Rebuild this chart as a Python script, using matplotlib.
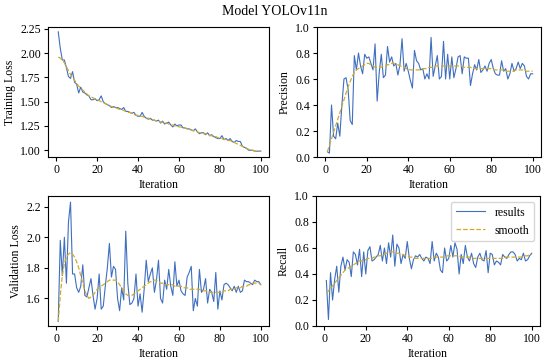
import matplotlib
matplotlib.use("Agg")
import matplotlib.pyplot as plt

plt.rcParams['font.family'] = ['Liberation Serif', 'DejaVu Serif']
plt.rcParams['font.size'] = 8

iteration = list(range(1, 101))

train_loss = [2.22, 2.05, 1.93, 1.93, 1.85, 1.76, 1.74, 1.81, 1.70, 1.68,
              1.59, 1.65, 1.60, 1.59, 1.57, 1.56, 1.52, 1.52, 1.53, 1.51,
              1.52, 1.56, 1.50, 1.48, 1.47, 1.46, 1.44, 1.45, 1.44, 1.44,
              1.43, 1.42, 1.44, 1.40, 1.40, 1.39, 1.38, 1.39, 1.36, 1.35,
              1.35, 1.39, 1.35, 1.33, 1.32, 1.33, 1.31, 1.31, 1.30, 1.31,
              1.28, 1.30, 1.27, 1.28, 1.29, 1.26, 1.24, 1.27, 1.25, 1.26,
              1.26, 1.23, 1.23, 1.22, 1.22, 1.21, 1.20, 1.22, 1.19, 1.17,
              1.18, 1.18, 1.16, 1.18, 1.15, 1.16, 1.14, 1.13, 1.12, 1.12,
              1.15, 1.11, 1.12, 1.10, 1.12, 1.09, 1.08, 1.10, 1.09, 1.09,
              1.04, 1.03, 1.02, 1.00, 1.00, 1.00, 0.99, 0.99, 0.99, 0.99]
train_smooth = [1.96, 1.95, 1.93, 1.90, 1.86, 1.82, 1.78, 1.75, 1.72, 1.69,
                1.66, 1.64, 1.62, 1.60, 1.58, 1.56, 1.55, 1.54, 1.53, 1.52,
                1.51, 1.50, 1.49, 1.48, 1.47, 1.46, 1.45, 1.44, 1.44, 1.43,
                1.42, 1.42, 1.41, 1.40, 1.39, 1.39, 1.38, 1.37, 1.36, 1.36,
                1.35, 1.35, 1.34, 1.33, 1.33, 1.32, 1.31, 1.31, 1.30, 1.30,
                1.29, 1.29, 1.28, 1.28, 1.27, 1.26, 1.26, 1.25, 1.25, 1.24,
                1.24, 1.23, 1.23, 1.22, 1.21, 1.21, 1.20, 1.20, 1.19, 1.18,
                1.18, 1.17, 1.17, 1.16, 1.15, 1.15, 1.14, 1.14, 1.13, 1.12,
                1.12, 1.11, 1.11, 1.10, 1.10, 1.09, 1.08, 1.07, 1.06, 1.05,
                1.04, 1.03, 1.02, 1.01, 1.00, 1.00, 0.99, 0.99, 0.99, 0.99]

precision = [0.04, 0.03, 0.40, 0.16, 0.14, 0.26, 0.16, 0.40, 0.60, 0.61,
             0.52, 0.28, 0.25, 0.78, 0.67, 0.80, 0.70, 0.64, 0.79, 0.76,
             0.77, 0.72, 0.67, 0.87, 0.43, 0.65, 0.79, 0.61, 0.63, 0.85,
             0.73, 0.77, 0.70, 0.72, 0.63, 0.71, 0.91, 0.66, 0.72, 0.66,
             0.59, 0.53, 0.82, 0.74, 0.72, 0.67, 0.68, 0.60, 0.64, 0.60,
             0.92, 0.62, 0.70, 0.78, 0.60, 0.62, 0.89, 0.60, 0.79, 0.60,
             0.77, 0.61, 0.68, 0.77, 0.78, 0.64, 0.77, 0.76, 0.76, 0.55,
             0.64, 0.71, 0.67, 0.75, 0.65, 0.67, 0.70, 0.66, 0.72, 0.75,
             0.68, 0.64, 0.63, 0.63, 0.74, 0.66, 0.68, 0.60, 0.64, 0.72,
             0.66, 0.68, 0.73, 0.68, 0.72, 0.70, 0.62, 0.60, 0.64, 0.64]
precision_smooth = [0.04, 0.09, 0.14, 0.19, 0.24, 0.29, 0.34, 0.39, 0.44, 0.49,
                    0.54, 0.58, 0.62, 0.65, 0.67, 0.68, 0.69, 0.70, 0.71, 0.72,
                    0.72, 0.71, 0.70, 0.69, 0.69, 0.69, 0.69, 0.70, 0.70, 0.71,
                    0.71, 0.72, 0.72, 0.71, 0.71, 0.70, 0.70, 0.69, 0.68, 0.68,
                    0.67, 0.67, 0.67, 0.67, 0.67, 0.67, 0.68, 0.68, 0.68, 0.69,
                    0.69, 0.69, 0.70, 0.70, 0.70, 0.70, 0.70, 0.70, 0.70, 0.70,
                    0.70, 0.70, 0.70, 0.70, 0.70, 0.70, 0.69, 0.69, 0.69, 0.69,
                    0.68, 0.68, 0.68, 0.68, 0.68, 0.68, 0.68, 0.68, 0.68, 0.68,
                    0.67, 0.67, 0.67, 0.67, 0.67, 0.67, 0.66, 0.66, 0.66, 0.66,
                    0.66, 0.67, 0.67, 0.67, 0.67, 0.67, 0.66, 0.66, 0.66, 0.66]

val_loss = [1.45, 1.98, 1.75, 2.00, 1.70, 2.10, 2.23, 1.76, 1.76, 1.67,
            1.64, 1.68, 1.82, 1.62, 1.61, 1.67, 1.73, 1.62, 1.53, 1.60,
            1.76, 1.53, 1.55, 1.68, 1.80, 1.96, 1.74, 1.81, 1.79, 1.60,
            1.52, 1.67, 1.59, 2.04, 1.70, 1.56, 1.57, 1.60, 1.76, 1.55,
            1.63, 1.51, 1.66, 1.85, 1.71, 1.76, 1.80, 1.64, 1.72, 1.85,
            1.60, 1.57, 1.72, 1.66, 1.79, 1.68, 1.62, 1.84, 1.68, 1.72,
            1.65, 1.63, 1.62, 1.74, 1.77, 1.81, 1.52, 1.60, 1.55, 1.79,
            1.64, 1.66, 1.73, 1.57, 1.66, 1.64, 1.58, 1.77, 1.53, 1.65,
            1.59, 1.69, 1.70, 1.69, 1.67, 1.65, 1.68, 1.64, 1.68, 1.64,
            1.65, 1.72, 1.71, 1.71, 1.70, 1.69, 1.72, 1.71, 1.71, 1.69]
val_smooth = [1.45, 1.62, 1.75, 1.83, 1.87, 1.89, 1.90, 1.89, 1.87, 1.84,
              1.80, 1.75, 1.70, 1.65, 1.62, 1.60, 1.61, 1.62, 1.64, 1.66,
              1.67, 1.68, 1.69, 1.70, 1.71, 1.72, 1.72, 1.72, 1.72, 1.71,
              1.69, 1.67, 1.65, 1.63, 1.62, 1.62, 1.62, 1.63, 1.64, 1.65,
              1.66, 1.67, 1.68, 1.69, 1.70, 1.71, 1.71, 1.72, 1.72, 1.71,
              1.70, 1.70, 1.69, 1.69, 1.69, 1.69, 1.69, 1.68, 1.68, 1.68,
              1.68, 1.67, 1.67, 1.67, 1.66, 1.66, 1.66, 1.66, 1.66, 1.66,
              1.65, 1.65, 1.65, 1.65, 1.64, 1.64, 1.64, 1.64, 1.64, 1.64,
              1.64, 1.65, 1.65, 1.65, 1.66, 1.66, 1.66, 1.67, 1.67, 1.67,
              1.68, 1.68, 1.68, 1.69, 1.69, 1.70, 1.70, 1.70, 1.70, 1.69]

recall = [0.35, 0.05, 0.41, 0.20, 0.36, 0.46, 0.26, 0.46, 0.53, 0.43,
          0.51, 0.49, 0.38, 0.57, 0.55, 0.47, 0.59, 0.38, 0.57, 0.40,
          0.58, 0.61, 0.50, 0.51, 0.53, 0.55, 0.62, 0.50, 0.60, 0.48,
          0.64, 0.53, 0.70, 0.46, 0.63, 0.60, 0.48, 0.55, 0.52, 0.65,
          0.52, 0.44, 0.51, 0.54, 0.53, 0.55, 0.52, 0.50, 0.53, 0.52,
          0.48, 0.65, 0.50, 0.56, 0.53, 0.43, 0.41, 0.60, 0.50, 0.52,
          0.62, 0.53, 0.64, 0.59, 0.40, 0.55, 0.48, 0.62, 0.53, 0.50,
          0.56, 0.48, 0.45, 0.53, 0.56, 0.51, 0.50, 0.58, 0.41, 0.56,
          0.55, 0.47, 0.50, 0.49, 0.47, 0.55, 0.53, 0.52, 0.55, 0.57,
          0.57, 0.55, 0.50, 0.52, 0.51, 0.56, 0.50, 0.51, 0.54, 0.56]
recall_smooth = [0.25, 0.27, 0.29, 0.31, 0.33, 0.35, 0.37, 0.39, 0.41, 0.43,
                 0.44, 0.45, 0.46, 0.47, 0.48, 0.49, 0.50, 0.50, 0.51, 0.51,
                 0.52, 0.52, 0.52, 0.53, 0.53, 0.54, 0.54, 0.55, 0.55, 0.56,
                 0.56, 0.57, 0.57, 0.57, 0.56, 0.56, 0.55, 0.55, 0.54, 0.54,
                 0.53, 0.53, 0.53, 0.52, 0.52, 0.52, 0.52, 0.52, 0.52, 0.52,
                 0.52, 0.52, 0.53, 0.53, 0.53, 0.53, 0.53, 0.53, 0.54, 0.54,
                 0.54, 0.54, 0.54, 0.54, 0.54, 0.53, 0.53, 0.53, 0.53, 0.53,
                 0.53, 0.52, 0.52, 0.52, 0.52, 0.52, 0.52, 0.52, 0.52, 0.52,
                 0.52, 0.52, 0.52, 0.52, 0.52, 0.52, 0.53, 0.53, 0.53, 0.53,
                 0.53, 0.53, 0.53, 0.53, 0.53, 0.54, 0.54, 0.54, 0.55, 0.55]

W, H = 550, 363
fig = plt.figure(figsize=(W / 100, H / 100), dpi=100)

# axes boxes in pixels: left, top, right, bottom
boxes = [(48, 27, 269, 157), (317, 27, 541, 157),
         (48, 196, 269, 326), (316, 196, 540, 326)]
panels = [("Training Loss", train_loss, train_smooth, (0.93, 2.27), [1.00, 1.25, 1.50, 1.75, 2.00, 2.25], "%.2f"),
          ("Precision", precision, precision_smooth, (0, 1), [0.0, 0.2, 0.4, 0.6, 0.8, 1.0], "%.1f"),
          ("Validation Loss", val_loss, val_smooth, (1.42, 2.27), [1.6, 1.8, 2.0, 2.2], "%.1f"),
          ("Recall", recall, recall_smooth, (0, 1), [0.0, 0.2, 0.4, 0.6, 0.8, 1.0], "%.1f")]

for (l, t, r, b), (name, res, sm, ylim, yt, fmt) in zip(boxes, panels):
    ax = fig.add_axes([l / W, 1 - b / H, (r - l) / W, (b - t) / H])
    ax.plot(iteration, res, color="#3f6fbf", lw=0.8, label="results")
    ax.plot(iteration, sm, "--", color="#d2aa2a", lw=0.9, label="smooth")
    ax.set_xlim(-4, 104)
    ax.set_xticks([0, 20, 40, 60, 80, 100])
    ax.set_ylim(*ylim)
    ax.set_yticks(yt)
    ax.yaxis.set_major_formatter(matplotlib.ticker.FormatStrFormatter(fmt))
    ax.set_xlabel("Iteration", labelpad=2, fontsize=8.5)
    ax.set_ylabel(name, labelpad=3, fontsize=8.5)
    ax.tick_params(labelsize=8.5, length=3, pad=2)
    if name == "Recall":
        ax.legend(loc="upper right", fontsize=8.5, handlelength=2.5)

fig.suptitle("Model YOLOv11n", y=0.985, fontsize=10)
fig.savefig("out.png", dpi=100)
